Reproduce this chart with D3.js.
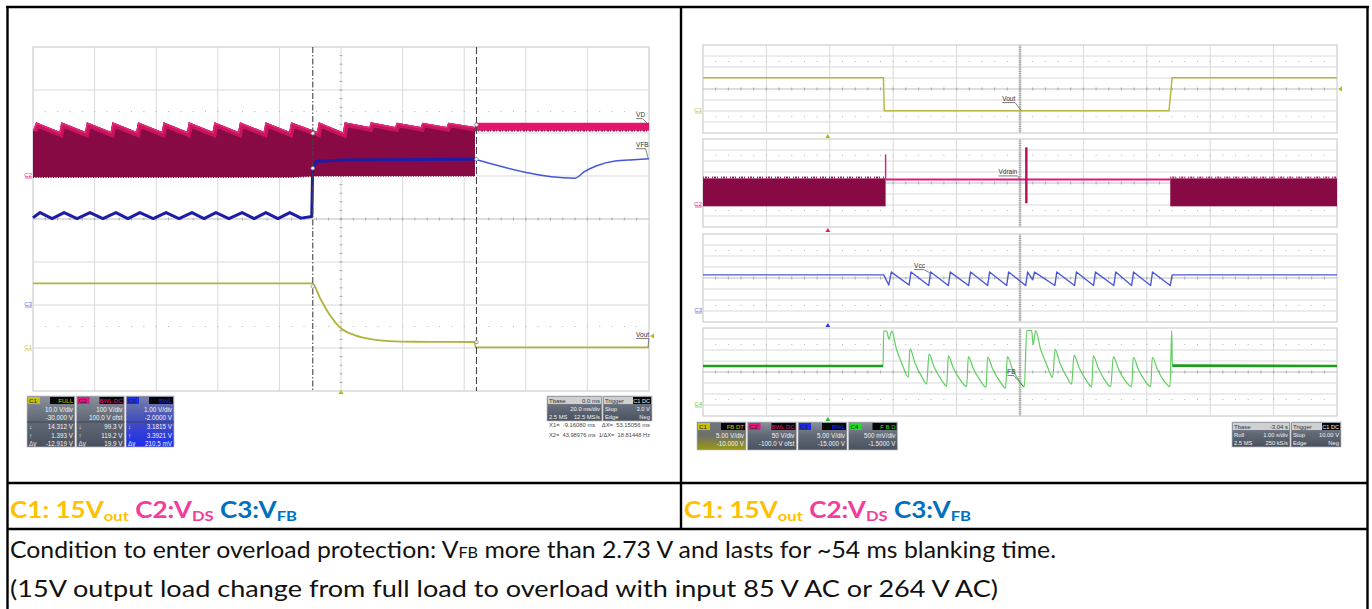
<!DOCTYPE html>
<html>
<head>
<meta charset="utf-8">
<script src="https://cdn.jsdelivr.net/npm/d3@7"></script>
<style>
  body { margin: 0; background: #fff; }
  svg { display: block; }
</style>
</head>
<body>
<svg id="chart" width="1372" height="609"></svg>
<script>
// ---------- left capture: 20 ms/div, time in ms, trigger at 0 ----------
const leftT = [-100, 100];
const leftCursorT = [-9.1608, 43.98976];
const leftVdiv = [10, 100, 1];          // C1, C2, C3
const leftOffset = [-30, 100, -2];
// C2 VDS switching band, top envelope [ms, V]
const vdsTop = [
  [-100, 105], [-99.0, 125], [-91.4, 103], [-90.8, 125], [-83.1, 103], [-82.5, 125],
  [-74.8, 103], [-74.2, 125], [-66.5, 103], [-65.9, 125], [-58.2, 103], [-57.6, 125],
  [-50.0, 103], [-49.4, 125], [-41.7, 103], [-41.1, 125], [-33.4, 103], [-32.8, 125],
  [-25.1, 103], [-24.5, 125], [-16.8, 103], [-16.2, 125], [-7.8, 103], [-7.2, 125],
  [0.6, 102], [1.2, 125], [9.2, 114], [9.7, 125], [17.6, 114], [18.1, 124],
  [25.9, 114], [26.4, 124], [34.3, 114], [34.8, 124], [43.5, 114]
];
const vdsBottom = [-3, 0];              // before / after X1
const vdsIdle = [[43.5, 105, 124], [100, 105, 124]];   // [ms, low, high]
// C3 VFB
const vfbNormal = [
  [-100, 2.03], [-97.7, 2.15], [-93.8, 2.01], [-89.9, 2.15], [-85.7, 2.01], [-81.5, 2.15],
  [-77.3, 2.01], [-73.1, 2.15], [-69.2, 2.01], [-65.3, 2.15], [-61.0, 2.01], [-56.8, 2.15],
  [-52.6, 2.01], [-48.4, 2.15], [-44.5, 2.01], [-40.6, 2.15], [-36.4, 2.01], [-32.1, 2.15],
  [-28.2, 2.01], [-24.4, 2.15], [-20.5, 2.01], [-16.6, 2.15], [-13.0, 2.02], [-9.5, 2.06],
  [-9.2, 3.18], [-8.0, 3.34], [0, 3.37], [43.5, 3.39]
];
const vfbAfter = [[43.5, 3.39], [76.0, 2.95], [79, 3.1], [83, 3.24], [89, 3.35], [95, 3.38], [100, 3.4]];
// C1 Vout
const voutLeft = [
  [-100, 15.05], [-9.3, 15.05], [-6.8, 11.6], [-4.0, 8.1], [0, 4.6], [4.4, 3.0], [10.1, 2.0],
  [15.6, 1.6], [24.0, 1.45], [35, 1.42], [43.4, 1.39]
];
const voutOff = [[43.6, 0.15], [100, 0.15]];
// cursor read-outs [channel index, ms, V]
const leftMarks = [[1, -9.1608, 99.3], [1, 43.98976, 119.2], [2, -9.1608, 3.1815], [2, 43.98976, 3.3921],
  [0, -9.1608, 14.312], [0, 43.98976, 1.393]];
const leftNames = [["VD", 1, 95.8, 137, 99.7, 121], ["VFB", 2, 95.8, 3.67, 99.7, 3.42], ["Vout", 0, 95.8, 2.56, 99.7, 0.2]];

// ---------- right capture: roll 1 s/div, time in s ----------
const rightT = [0, 10];
const rightTrigT = 1.97;
const rightVdiv = [5, 50, 5, 0.5];      // C1..C4
const rightOffset = [-10, -100, -15, -1.5];
const rVout = [[0, 15.1], [2.845, 15.1], [2.86, 0.15], [7.35, 0.15], [7.40, 15.1], [10, 15.1]];
const rVdsBands = [[0, 2.88], [7.37, 10]];
const rVdsLevels = [-6, 121];
const rVdsIdle = [[2.88, 116], [7.37, 116]];
const rVdsSpikes = [[2.88, 230, 118], [5.10, 262, 8]];   // [s, max, min]
const rVcc = [
  [0, 16.4], [2.85, 16.4], [2.93, 11.8], [2.97, 17.7], [3.25, 11.8], [3.28, 17.7],
  [3.56, 11.6], [3.59, 17.7], [3.87, 11.6], [3.90, 17.7], [4.19, 11.6], [4.22, 17.7],
  [4.49, 11.6], [4.52, 17.7], [4.79, 11.6], [4.82, 17.7], [5.09, 11.6], [5.12, 17.7],
  [5.20, 14.2], [5.23, 17.7], [5.55, 11.6], [5.58, 17.7], [5.86, 11.6], [5.89, 17.7],
  [6.16, 11.6], [6.19, 17.7], [6.48, 11.6], [6.51, 17.7], [6.76, 11.6], [6.79, 17.7],
  [7.06, 11.6], [7.09, 17.7], [7.37, 11.6], [7.40, 16.4], [10, 16.4]
];
const rFb = [
  [0, 1.77], [2.840, 1.77], [2.850, 3.36], [2.897, 3.36], [2.934, 2.99], [2.976, 3.36],
  [3.055, 2.5], [3.134, 1.91], [3.238, 1.27], [3.265, 2.55], [3.344, 1.9], [3.450, 1.29],
  [3.528, 0.95], [3.565, 2.32], [3.644, 1.74], [3.754, 1.17], [3.844, 0.86], [3.869, 2.23],
  [3.948, 1.68], [4.054, 1.15], [4.159, 0.84], [4.185, 2.2], [4.263, 1.66], [4.369, 1.13],
  [4.464, 0.81], [4.491, 2.18], [4.569, 1.64], [4.677, 1.1], [4.774, 0.77], [4.800, 2.2],
  [4.879, 1.65], [4.984, 1.12], [5.068, 0.83], [5.106, 3.38], [5.185, 3.38], [5.205, 2.73],
  [5.248, 3.38], [5.326, 2.52], [5.410, 1.92], [5.516, 1.26], [5.552, 2.53], [5.631, 1.9],
  [5.733, 1.3], [5.815, 0.95], [5.852, 2.27], [5.931, 1.7], [6.041, 1.14], [6.131, 0.83],
  [6.156, 2.23], [6.235, 1.67], [6.341, 1.12], [6.431, 0.83], [6.472, 2.2], [6.551, 1.65],
  [6.656, 1.12], [6.762, 0.83], [6.787, 2.17], [6.866, 1.63], [6.972, 1.1], [7.061, 0.83],
  [7.087, 2.17], [7.166, 1.63], [7.271, 1.1], [7.366, 0.83], [7.393, 3.38], [7.403, 1.79],
  [10, 1.77]
];
const rightNames = [["Vout", 0, 4.72, 4.5, 5.02, 0.15], ["Vdrain", 1, 4.66, 139, 5.0, 116],
  ["Vcc", 2, 3.33, 19.5, 3.58, 17.3], ["FB", 3, 4.8, 1.41, 5.06, 0.82]];

// ---------- read-out boxes ----------
const chanTags = ["C1", "C2", "C3", "C4"];
const chanColors = ["#c9c400", "#e3167c", "#1b2bea", "#22dd22"];
const leftBadges = ["FULL", "BWL DC", "BWL"];
const leftRows = [["10.0 V/div", "-30.000 V"], ["100 V/div", "100.0 V ofst"], ["1.00 V/div", "-2.0000 V"]];
const leftCursorRows = [["14.312 V", "1.393 V", "-12.919 V"], ["99.3 V", "119.2 V", "19.9 V"], ["3.1815 V", "3.3921 V", "210.5 mV"]];
const cursorSymbols = ["\u2193", "\u2191", "\u0394y"];
const rightBadges = ["FB DT", "BWL DC", "BWL", "F B D"];
const rightRows = [["5.00 V/div", "-10.000 V"], ["50 V/div", "-100.0 V ofst"], ["5.00 V/div", "-15.000 V"], ["500 mV/div", "-1.5000 V"]];
const leftTbase = [["Tbase", "0.0 ms"], ["", "20.0 ms/div"], ["2.5 MS", "12.5 MS/s"]];
const leftTrig = [["Trigger", "C1 DC"], ["Stop", "3.0 V"], ["Edge", "Neg"]];
const rightTbase = [["Tbase", "-3.04 s"], ["Roll", "1.00 s/div"], ["2.5 MS", "250 kS/s"]];
const rightTrig = [["Trigger", "C1 DC"], ["Stop", "10.00 V"], ["Edge", "Neg"]];
const leftXRead = ["X1=  -9.16080 ms    \u0394X=  53.15056 ms", "X2=  43.98976 ms  1/\u0394X=  18.81448 Hz"];

const small = "'Liberation Sans Narrow','Liberation Sans',Arial,sans-serif";
const svg = d3.select("#chart");

// gradients for the read-out boxes
const defs = svg.append("defs");
function grad(id, stops, x2, y2) {
  const g = defs.append("linearGradient").attr("id", id)
    .attr("x1", 0).attr("y1", 0).attr("x2", x2).attr("y2", y2);
  stops.forEach(([o, c]) => g.append("stop").attr("offset", o).attr("stop-color", c));
}
grad("gGray", [[0, "#8a919c"], [0.45, "#626a78"], [1, "#4a515e"]], 0, 1);
grad("gBlue", [[0, "#7a82a8"], [0.4, "#4a55b8"], [1, "#1c2cf0"]], 0, 1);
grad("gYel", [[0, "#6e7580"], [0.5, "#6e7066"], [1, "#9a9a10"]], 0, 1);

// ---------- grid ----------
function scopeGrid(g, gx, gy, darkCenter) {
  const [x0, x1] = gx.range(), [y1, y0] = gy.range();
  g.append("rect").attr("x", x0).attr("y", y0).attr("width", x1 - x0).attr("height", y1 - y0)
    .attr("fill", "#fff").attr("stroke", "#c4c4c4").attr("stroke-width", 1);
  g.selectAll(null).data(d3.range(1, 10)).join("line")
    .attr("x1", d => gx(d)).attr("x2", d => gx(d)).attr("y1", y0).attr("y2", y1)
    .attr("stroke", d => d === 5 && darkCenter ? "#a9a9a9" : "#d9d9d9").attr("stroke-width", 1);
  g.selectAll(null).data(d3.range(-3, 4)).join("line")
    .attr("x1", x0).attr("x2", x1).attr("y1", d => gy(d)).attr("y2", d => gy(d))
    .attr("stroke", d => d === 0 ? "#bdbdbd" : "#d9d9d9").attr("stroke-width", 1);
  g.selectAll(null).data(d3.range(0.2, 10, 0.2)).join("line")
    .attr("x1", d => gx(d)).attr("x2", d => gx(d)).attr("y1", gy(0) - 1.5).attr("y2", gy(0) + 1.5)
    .attr("stroke", "#9a9a9a").attr("stroke-width", 0.8);
  g.selectAll(null).data(d3.range(-3.8, 4, 0.2)).join("line")
    .attr("x1", gx(5) - 1.5).attr("x2", gx(5) + 1.5).attr("y1", d => gy(d)).attr("y2", d => gy(d))
    .attr("stroke", "#9a9a9a").attr("stroke-width", 0.8);
  [2.5, -2.5].forEach(r => {
    g.selectAll(null).data(d3.range(0.2, 10, 0.2)).join("rect")
      .attr("x", d => gx(d) - 0.5).attr("y", gy(r) - 0.5).attr("width", 1).attr("height", 1)
      .attr("fill", "#b5b5b5");
  });
}

function traceLabel(g, name, x, y, x2, y2) {
  g.append("text").attr("x", x).attr("y", y).text(name)
    .attr("font-family", small).attr("font-size", 6.5).attr("fill", "#333");
  g.append("line").attr("x1", x).attr("x2", x + name.length * 3.2).attr("y1", y + 1.5).attr("y2", y + 1.5)
    .attr("stroke", "#444").attr("stroke-width", 0.7);
  g.append("line").attr("x1", x + name.length * 3.2).attr("y1", y + 1.5).attr("x2", x2).attr("y2", y2)
    .attr("stroke", "#555").attr("stroke-width", 0.7);
}

function chanTagLabel(g, tag, col, x, y) {
  g.append("text").attr("x", x).attr("y", y).text(tag).attr("text-anchor", "end")
    .attr("font-family", small).attr("font-size", 6).attr("fill", col);
  g.append("line").attr("x1", x - 7).attr("x2", x).attr("y1", y + 1).attr("y2", y + 1)
    .attr("stroke", col).attr("stroke-width", 0.7);
}

function trigMark(g, x, y, col) {
  g.append("path").attr("d", `M${x - 2.5},${y + 3}L${x},${y - 1}L${x + 2.5},${y + 3}Z`).attr("fill", col);
}

function txt(g, x, y, s, fill, anchor, size) {
  return g.append("text").attr("x", x).attr("y", y).text(s).attr("fill", fill)
    .attr("text-anchor", anchor || "start").attr("font-family", small).attr("font-size", size || 6.3);
}

function chanBox(g, x, y, w, i, badge, rows, cursors, fill) {
  const h = cursors ? 51 : 28;
  g.append("rect").attr("x", x).attr("y", y).attr("width", w).attr("height", h)
    .attr("fill", fill).attr("stroke", "#b9bdc4").attr("stroke-width", 0.7);
  g.append("rect").attr("x", x + 1).attr("y", y + 1).attr("width", 12).attr("height", 7).attr("fill", chanColors[i]);
  txt(g, x + 2, y + 7, chanTags[i], "#202020", "start", 6.2);
  g.append("rect").attr("x", x + w - 25).attr("y", y + 1).attr("width", 24).attr("height", 7).attr("fill", "#060606");
  txt(g, x + w - 2, y + 7, badge, chanColors[i], "end", 6);
  rows.forEach((r, k) => txt(g, x + w - 2, y + 15.5 + k * 8.5, r, "#f2f2f2", "end"));
  if (cursors) {
    g.append("line").attr("x1", x).attr("x2", x + w).attr("y1", y + 26).attr("y2", y + 26)
      .attr("stroke", "#3a3f48").attr("stroke-width", 0.8);
    cursors.forEach((c, k) => {
      txt(g, x + 2, y + 33 + k * 8.5, cursorSymbols[k], "#e8e8e8", "start");
      txt(g, x + w - 2, y + 33 + k * 8.5, c, "#f2f2f2", "end");
    });
  }
}

function infoPair(g, x, y, w, rows, headIsTag) {
  g.append("rect").attr("x", x).attr("y", y).attr("width", w).attr("height", 25)
    .attr("fill", "url(#gGray)").attr("stroke", "#b9bdc4").attr("stroke-width", 0.7);
  g.append("rect").attr("x", x + 1).attr("y", y + 1).attr("width", w - 2).attr("height", 7).attr("fill", "#d0d0d0");
  txt(g, x + 2, y + 7, rows[0][0], "#333", "start", 6);
  if (headIsTag) {
    g.append("rect").attr("x", x + w - 19).attr("y", y + 1).attr("width", 18).attr("height", 7).attr("fill", "#050505");
    txt(g, x + w - 2, y + 7, rows[0][1], "#f0f0f0", "end", 5.6);
  } else {
    txt(g, x + w - 2, y + 7, rows[0][1], "#333", "end", 6);
  }
  rows.slice(1).forEach((r, k) => {
    txt(g, x + 2, y + 15 + k * 8, r[0], "#f2f2f2", "start", 5.8);
    txt(g, x + w - 2, y + 15 + k * 8, r[1], "#f2f2f2", "end", 5.8);
  });
}

// =================== LEFT CAPTURE ===================
const L = svg.append("g");
const lgx = d3.scaleLinear().domain([0, 10]).range([33, 649]);
const lgy = d3.scaleLinear().domain([-4, 4]).range([391, 47]);
scopeGrid(L, lgx, lgy, false);
const lx = d3.scaleLinear().domain(leftT).range([33, 649]);
const ly = (c, v) => lgy((v + leftOffset[c]) / leftVdiv[c]);

// C2 band
const vdsArea = d3.area().x(d => lx(d[0]))
  .y0(d => ly(1, d[0] < leftCursorT[0] ? vdsBottom[0] : vdsBottom[1])).y1(d => ly(1, d[1]));
defs.append("clipPath").attr("id", "vdsClip").append("path").attr("d", vdsArea(vdsTop));
L.append("path").attr("d", vdsArea(vdsTop)).attr("fill", "#880a44");
const vdsLine = d3.line().x(d => lx(d[0])).y(d => ly(1, d[1]));
L.append("path").attr("d", vdsLine(vdsTop)).attr("clip-path", "url(#vdsClip)")
  .attr("fill", "none").attr("stroke", "#c7145d").attr("stroke-width", 9);
L.append("path").attr("d", vdsLine(vdsTop)).attr("clip-path", "url(#vdsClip)")
  .attr("fill", "none").attr("stroke", "#e42a78").attr("stroke-width", 3);
L.append("path").attr("d", d3.line().x(d => lx(d[0])).y(d => ly(1, d[1]))(vdsTop.map(d => [d[0], d[0] < leftCursorT[0] ? vdsBottom[0] : vdsBottom[1]])))
  .attr("fill", "none").attr("stroke", "#7a0a3c").attr("stroke-width", 1.5).attr("stroke-dasharray", "1,1.5");
L.append("path").attr("d", d3.area().x(d => lx(d[0])).y0(d => ly(1, d[1])).y1(d => ly(1, d[2]))(vdsIdle))
  .attr("fill", "#e4146c");
L.append("path").attr("d", d3.line().x(d => lx(d[0])).y(d => ly(1, d[1]))(vdsIdle))
  .attr("stroke", "#8a0a44").attr("stroke-width", 1.2).attr("stroke-dasharray", "2,1,1,2");

// C3 VFB
L.append("path").attr("d", d3.line().x(d => lx(d[0])).y(d => ly(2, d[1]))(vfbNormal))
  .attr("fill", "none").attr("stroke", "#1d1ca6").attr("stroke-width", 3).attr("stroke-linejoin", "round");
L.append("path").attr("d", d3.line().curve(d3.curveMonotoneX).x(d => lx(d[0])).y(d => ly(2, d[1]))(vfbAfter))
  .attr("fill", "none").attr("stroke", "#4656da").attr("stroke-width", 1.5);

// C1 Vout
const lv = d3.line().curve(d3.curveMonotoneX).x(d => lx(d[0])).y(d => ly(0, d[1]));
L.append("path").attr("d", lv(voutLeft)).attr("fill", "none").attr("stroke", "#b3b23a").attr("stroke-width", 1.8);
L.append("path").attr("d", lv(voutOff)).attr("fill", "none").attr("stroke", "#b3b23a").attr("stroke-width", 1.8);
L.append("line").attr("x1", lx(voutLeft[voutLeft.length - 1][0])).attr("x2", lx(voutOff[0][0]))
  .attr("y1", ly(0, voutLeft[voutLeft.length - 1][1])).attr("y2", ly(0, voutOff[0][1]))
  .attr("stroke", "#b3b23a").attr("stroke-width", 1.5);

// cursors
L.append("line").attr("x1", lx(leftCursorT[0])).attr("x2", lx(leftCursorT[0])).attr("y1", 47).attr("y2", 391)
  .attr("stroke", "#444").attr("stroke-width", 1.1).attr("stroke-dasharray", "6,2,1.5,2");
L.append("line").attr("x1", lx(leftCursorT[1])).attr("x2", lx(leftCursorT[1])).attr("y1", 47).attr("y2", 391)
  .attr("stroke", "#444").attr("stroke-width", 1.1).attr("stroke-dasharray", "7,3");
leftMarks.forEach(([c, t, v]) => {
  L.append("circle").attr("cx", lx(t)).attr("cy", ly(c, v)).attr("r", 1.8)
    .attr("fill", "#f4f4f4").attr("stroke", "#777").attr("stroke-width", 0.6);
});
trigMark(L, lx(0), 391, "#b8b800");
L.append("path").attr("d", `M${649 + 1},${ly(0, 2.8)}L${649 + 5},${ly(0, 2.8) - 2.5}L${649 + 5},${ly(0, 2.8) + 2.5}Z`).attr("fill", "#b8b800");
chanTagLabel(L, "C2", "#e3167c", 32, ly(1, 0) + 1);
chanTagLabel(L, "C3", "#5a6ae0", 32, ly(2, 0) + 1);
chanTagLabel(L, "C1", "#c2c040", 32, ly(0, 0) + 1);
leftNames.forEach(([n, c, t, v, t2, v2]) => traceLabel(L, n, lx(t), ly(c, v), lx(t2), ly(c, v2)));

// read-outs
[0, 1, 2].forEach(i => chanBox(L, 27 + i * 49.5, 396, 48, i, leftBadges[i], leftRows[i], leftCursorRows[i],
  i === 2 ? "url(#gBlue)" : "url(#gGray)"));
infoPair(L, 547, 396, 55, leftTbase, false);
infoPair(L, 603, 396, 49, leftTrig, true);
leftXRead.forEach((s, k) => {
  txt(L, 549, 427 + k * 9.5, s, "#444", "start", 6.2)
    .attr("textLength", 101).attr("lengthAdjust", "spacingAndGlyphs").style("white-space", "pre");
});

// =================== RIGHT CAPTURE ===================
const R = svg.append("g");
const rgx = d3.scaleLinear().domain([0, 10]).range([703, 1337]);
const rx = d3.scaleLinear().domain(rightT).range([703, 1337]);
const panelTop = [45, 139, 234, 328];
const rgy = panelTop.map(t => d3.scaleLinear().domain([-4, 4]).range([t + 88, t]));
rgy.forEach(s => scopeGrid(R, rgx, s, true));
const ry = (c, v) => rgy[c]((v + rightOffset[c]) / rightVdiv[c]);

// C1 Vout
R.append("path").attr("d", d3.line().x(d => rx(d[0])).y(d => ry(0, d[1]))(rVout))
  .attr("fill", "none").attr("stroke", "#b8b844").attr("stroke-width", 1.5);
// C2 Vdrain
rVdsBands.forEach(b => {
  R.append("rect").attr("x", rx(b[0])).attr("width", rx(b[1]) - rx(b[0]))
    .attr("y", ry(1, rVdsLevels[1])).attr("height", ry(1, rVdsLevels[0]) - ry(1, rVdsLevels[1]))
    .attr("fill", "#880a44");
  R.append("line").attr("x1", rx(b[0])).attr("x2", rx(b[1])).attr("y1", ry(1, rVdsLevels[1]) - 1).attr("y2", ry(1, rVdsLevels[1]) - 1)
    .attr("stroke", "#a8246a").attr("stroke-width", 2).attr("stroke-dasharray", "1,1,2,1,1,3");
});
R.append("path").attr("d", d3.line().x(d => rx(d[0])).y(d => ry(1, d[1]))(rVdsIdle))
  .attr("stroke", "#e2177a").attr("stroke-width", 1.8);
rVdsSpikes.forEach(([t, hi, lo], k) => {
  R.append("line").attr("x1", rx(t)).attr("x2", rx(t)).attr("y1", ry(1, hi)).attr("y2", ry(1, lo))
    .attr("stroke", k === 0 ? "#e2177a" : "#b0105a").attr("stroke-width", k === 0 ? 1.4 : 2.4);
});
// C3 Vcc
R.append("path").attr("d", d3.line().x(d => rx(d[0])).y(d => ry(2, d[1]))(rVcc))
  .attr("fill", "none").attr("stroke", "#4b58d6").attr("stroke-width", 1.4).attr("stroke-linejoin", "round");
// C4 FB
R.append("path").attr("d", d3.line().curve(d3.curveMonotoneX).x(d => rx(d[0])).y(d => ry(3, d[1]))(rFb))
  .attr("fill", "none").attr("stroke", "#5fcf5f").attr("stroke-width", 1.2);
[rFb.filter(d => d[0] <= 2.840), rFb.filter(d => d[0] >= 7.403)].forEach(seg => {
  R.append("path").attr("d", d3.line().x(d => rx(d[0])).y(d => ry(3, d[1]))(seg))
    .attr("fill", "none").attr("stroke", "#1c9e1c").attr("stroke-width", 2.6);
});

["#b8b800", "#e3167c", "#2a3ae0", "#22c022"].forEach((c, k) => trigMark(R, rx(rightTrigT), panelTop[k] + 90, c));
R.append("path").attr("d", `M${1338},${ry(0, 10)}L${1342},${ry(0, 10) - 2.5}L${1342},${ry(0, 10) + 2.5}Z`).attr("fill", "#b8b800");
["#c2c040", "#e3167c", "#5a6ae0", "#4ad04a"].forEach((c, k) => chanTagLabel(R, chanTags[k], c, 702, ry(k, 0) + 1));
rightNames.forEach(([n, c, t, v, t2, v2]) => traceLabel(R, n, rx(t), ry(c, v), rx(t2), ry(c, v2)));

[0, 1, 2, 3].forEach(i => chanBox(R, 697 + i * 50.5, 422, 49, i, rightBadges[i], rightRows[i], null,
  i === 0 ? "url(#gYel)" : "url(#gGray)"));
infoPair(R, 1232, 422, 58, rightTbase, false);
infoPair(R, 1291, 422, 50, rightTrig, true);

// =================== TABLE + CAPTIONS ===================
const T = svg.append("g").attr("stroke", "#000").attr("stroke-width", 2.4);
T.append("line").attr("x1", 6).attr("x2", 1369).attr("y1", 7).attr("y2", 7);
T.append("line").attr("x1", 7.5).attr("x2", 7.5).attr("y1", 6).attr("y2", 609);
T.append("line").attr("x1", 1367.5).attr("x2", 1367.5).attr("y1", 6).attr("y2", 609);
T.append("line").attr("x1", 681).attr("x2", 681).attr("y1", 7).attr("y2", 529);
T.append("line").attr("x1", 7).attr("x2", 1368).attr("y1", 483).attr("y2", 483);
T.append("line").attr("x1", 7).attr("x2", 1368).attr("y1", 529).attr("y2", 529);

const capParts = [["C1: 15V", "#ffc000", 0], ["out", "#ffc000", 1], [" C2:V", "#f43c9a", 0], ["DS", "#f43c9a", 1],
  [" C3:V", "#0070c0", 0], ["FB", "#0070c0", 1]];
[10, 684].forEach(x0 => {
  const t = svg.append("text").attr("x", x0).attr("y", 518).attr("font-family", "Lato, 'Open Sans', sans-serif")
    .attr("font-weight", "bold").attr("font-size", 22).attr("textLength", 287).attr("lengthAdjust", "spacingAndGlyphs");
  let sub = 0;
  capParts.forEach(([s, c, isSub]) => {
    t.append("tspan").text(s).attr("fill", c).attr("font-size", isSub ? 14 : 22)
      .attr("dy", isSub && !sub ? 3 : (!isSub && sub ? -3 : 0));
    sub = isSub;
  });
});

const bodyLines = [
  ["Condition to enter overload protection: V", "FB", " more than 2.73 V and lasts for ~54 ms blanking time."],
  ["(15V output load change from full load to overload with input 85 V AC or 264 V AC)"]
];
const bodyWidths = [1046, 988];
bodyLines.forEach((parts, k) => {
  const t = svg.append("text").attr("x", 10).attr("y", 558 + k * 39).attr("fill", "#111")
    .attr("font-family", "Lato, 'Open Sans', sans-serif").attr("font-size", 23)
    .attr("textLength", bodyWidths[k]).attr("lengthAdjust", "spacingAndGlyphs");
  parts.forEach((s, j) => t.append("tspan").text(s).attr("font-size", j === 1 ? 15 : 23));
});
</script>
</body>
</html>
